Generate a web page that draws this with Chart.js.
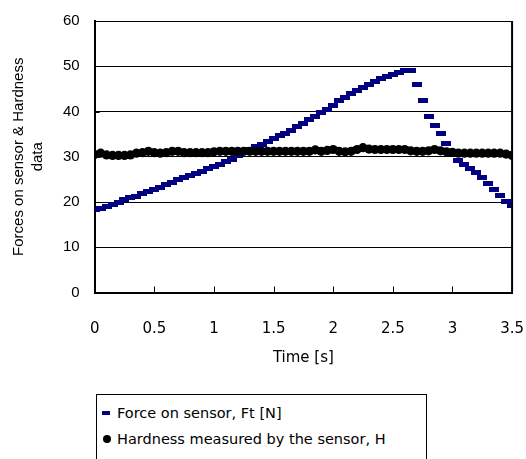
<!DOCTYPE html>
<html>
<head>
<meta charset="utf-8">
<script src="https://cdn.jsdelivr.net/npm/chart.js@4/dist/chart.umd.min.js"></script>
<style>
  html, body { margin: 0; padding: 0; background: #fff; }
  #wrap { position: relative; width: 526px; height: 459px; overflow: hidden; }
  #legend { position: absolute; left: 96px; top: 394px; width: 331px; height: 80px;
    border: 1px solid #000; box-sizing: border-box; background: #fff;
    font-family: "DejaVu Sans", sans-serif; font-size: 14.5px; color: #000; }
  .item { position: absolute; left: 0; height: 20px; line-height: 20px; white-space: nowrap; }
  .item span.txt { position: absolute; left: 20px; top: 0; }
  .mk { position: absolute; }
</style>
</head>
<body>
<div id="wrap">
  <canvas id="c" width="526" height="459"></canvas>
  <div id="legend"></div>
</div>
<script>
// ---- data ----
const timeS = [0, 0.05, 0.1, 0.15, 0.2, 0.25, 0.3, 0.35, 0.4, 0.45,
  0.5, 0.55, 0.6, 0.65, 0.7, 0.75, 0.8, 0.85, 0.9, 0.95,
  1.0, 1.05, 1.1, 1.15, 1.2, 1.25, 1.3, 1.35, 1.4, 1.45,
  1.5, 1.55, 1.6, 1.65, 1.7, 1.75, 1.8, 1.85, 1.9, 1.95,
  2.0, 2.05, 2.1, 2.15, 2.2, 2.25, 2.3, 2.35, 2.4, 2.45,
  2.5, 2.55, 2.6, 2.65, 2.7, 2.75, 2.8, 2.85, 2.9, 2.95,
  3.0, 3.05, 3.1, 3.15, 3.2, 3.25, 3.3, 3.35, 3.4, 3.45, 3.5];

const forceFt = [18.4, 18.6, 19.0, 19.5, 20.0, 20.6, 20.9, 21.3, 21.8, 22.3,
  22.8, 23.3, 23.9, 24.4, 24.9, 25.4, 25.8, 26.3, 26.8, 27.3,
  27.8, 28.3, 28.9, 29.5, 30.2, 30.9, 31.6, 32.2, 32.8, 33.4,
  34.0, 34.6, 35.2, 35.9, 36.6, 37.4, 38.2, 38.9, 39.7, 40.5,
  41.4, 42.4, 43.2, 44.0, 44.7, 45.4, 46.0, 46.6, 47.2, 47.8,
  48.2, 48.6, 49.1, 49.0, 45.9, 42.5, 39.0, 36.8, 35.2, 33.0,
  30.8, 29.1, 28.2, 27.4, 26.5, 25.5, 24.0, 22.7, 21.4, 20.1, 19.3];

const hardnessH = [30.5, 30.8, 30.4, 30.3, 30.3, 30.3, 30.4, 30.8, 30.9, 31.2,
  30.9, 30.8, 30.9, 31.2, 31.2, 30.9, 30.9, 30.9, 30.9, 30.9,
  31.1, 31.2, 31.2, 31.2, 31.2, 31.2, 31.2, 31.2, 31.2, 31.2,
  31.2, 31.2, 31.2, 31.2, 31.2, 31.2, 31.2, 31.5, 31.2, 31.4,
  31.6, 31.2, 31.1, 31.2, 31.6, 32.0, 31.7, 31.6, 31.6, 31.6,
  31.6, 31.6, 31.6, 31.3, 31.2, 31.2, 31.3, 31.6, 31.3, 31.1,
  31.0, 30.8, 30.8, 30.8, 30.8, 30.8, 30.8, 30.8, 30.8, 30.6, 30.3];

const xTicks = [0, 0.5, 1, 1.5, 2, 2.5, 3, 3.5];
const yTicks = [0, 10, 20, 30, 40, 50, 60];
const seriesLabels = ["Force on sensor, Ft [N]", "Hardness measured by the sensor, H"];
const xTitle = "Time [s]";
const yTitle = ["Forces on sensor & Hardness", "data"];

// ---- marks ----
const NAVY = "#000080";
const dash = document.createElement("canvas");
dash.width = 10; dash.height = 5;
(function(){ const g = dash.getContext("2d"); g.fillStyle = NAVY; g.fillRect(0, 0, 10, 5); })();

const pts = (ys) => timeS.map((t, i) => ({ x: t, y: ys[i] }));

const frame = {
  id: "frame",
  afterDatasetsDraw(chart) {
    const { ctx, chartArea: a, scales } = chart;
    ctx.save();
    ctx.strokeStyle = "#000";
    ctx.lineWidth = 2;
    ctx.beginPath();
    ctx.moveTo(a.right, a.top); ctx.lineTo(a.right, a.bottom);
    ctx.stroke();
    ctx.lineWidth = 1;
    ctx.beginPath();
    xTicks.forEach(v => {
      const px = Math.round(scales.x.getPixelForValue(v)) + 0.5;
      ctx.moveTo(px, a.bottom); ctx.lineTo(px, a.bottom - 6);
    });
    yTicks.forEach(v => {
      const py = Math.round(scales.y.getPixelForValue(v)) + 0.5;
      ctx.moveTo(a.left, py); ctx.lineTo(a.left + 5, py);
    });
    ctx.stroke();
    ctx.restore();
  }
};

new Chart(document.getElementById("c"), {
  type: "scatter",
  data: {
    datasets: [
      { label: seriesLabels[0], data: pts(forceFt), pointStyle: dash, pointRadius: 5,
        backgroundColor: NAVY, borderColor: NAVY, showLine: false, order: 2 },
      { label: seriesLabels[1], data: pts(hardnessH), pointStyle: "circle", pointRadius: 4.6,
        backgroundColor: "#000", borderColor: "#000", borderWidth: 0, showLine: false, order: 1 }
    ]
  },
  options: {
    responsive: false,
    animation: false,
    events: [],
    layout: { padding: { left: 5, right: 0, top: 0, bottom: 92 } },
    plugins: { legend: { display: false }, tooltip: { enabled: false } },
    scales: {
      x: {
        type: "linear", min: 0, max: 3.5,
        afterBuildTicks: (s) => { s.ticks = xTicks.map(v => ({ value: v })); },
        grid: { display: true, drawOnChartArea: false, drawTicks: false },
        border: { display: true, color: "#000", width: 2 },
        ticks: { color: "#000", padding: 2, maxRotation: 0, autoSkip: false,
          font: { family: "DejaVu Sans", size: 15, lineHeight: 1.55 },
          callback: (v) => ["", String(v)] },
        title: { display: true, text: xTitle, color: "#000",
          font: { family: "DejaVu Sans", size: 15 }, padding: { top: 6, bottom: 0 } }
      },
      y: {
        min: 0, max: 60,
        afterBuildTicks: (s) => { s.ticks = yTicks.map(v => ({ value: v })); },
        grid: { color: "#000", lineWidth: 1, drawTicks: false },
        border: { display: true, color: "#000", width: 2 },
        ticks: { color: "#000", padding: 15, font: { family: "Liberation Sans", size: 15, lineHeight: 0.8 } },
        title: { display: true, text: yTitle, color: "#000",
          font: { family: "Liberation Sans", size: 15, lineHeight: 1.3 },
          padding: { top: 4, bottom: 0 } }
      }
    }
  },
  plugins: [frame]
});

// ---- HTML legend ----
const lg = document.getElementById("legend");
seriesLabels.forEach((lab, i) => {
  const it = document.createElement("div");
  it.className = "item";
  it.style.top = (8 + i * 26) + "px";
  const mk = document.createElement("div");
  mk.className = "mk";
  if (i === 0) {
    mk.style.cssText = "left:5px;top:8px;width:8px;height:4px;background:" + NAVY + ";";
  } else {
    mk.style.cssText = "left:6px;top:6px;width:8px;height:8px;border-radius:50%;background:#000;";
  }
  const tx = document.createElement("span");
  tx.className = "txt";
  tx.textContent = lab;
  it.appendChild(mk); it.appendChild(tx);
  lg.appendChild(it);
});
</script>
</body>
</html>
